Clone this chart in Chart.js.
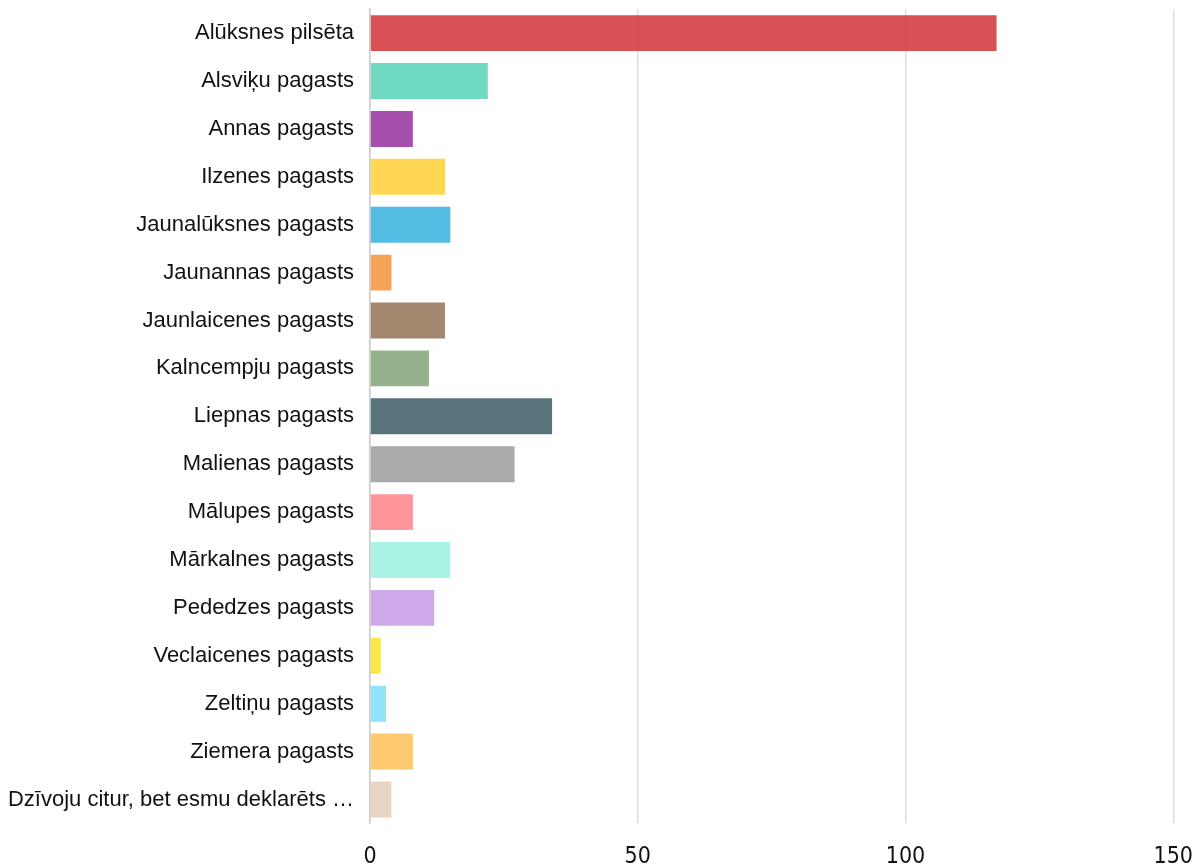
<!DOCTYPE html>
<html>
<head>
<meta charset="utf-8">
<script src="https://cdn.jsdelivr.net/npm/chart.js@4"></script>
<style>
  html, body { margin: 0; padding: 0; background: #fff; overflow: hidden; }
  #wrap { width: 1194px; height: 866px; overflow: hidden; position: relative; }
  #chart { position: absolute; left: 0; top: -20px; }
</style>
</head>
<body>
<div id="wrap"><canvas id="chart" width="1213" height="911"></canvas></div>
<script>
const labels = [
  'Alūksnes pilsēta', 'Alsviķu pagasts', 'Annas pagasts', 'Ilzenes pagasts',
  'Jaunalūksnes pagasts', 'Jaunannas pagasts', 'Jaunlaicenes pagasts', 'Kalncempju pagasts',
  'Liepnas pagasts', 'Malienas pagasts', 'Mālupes pagasts', 'Mārkalnes pagasts',
  'Pededzes pagasts', 'Veclaicenes pagasts', 'Zeltiņu pagasts', 'Ziemera pagasts',
  'Dzīvoju citur, bet esmu deklarēts …'
];
const values = [117, 22, 8, 14, 15, 4, 14, 11, 34, 27, 8, 15, 12, 2, 3, 8, 4];
const colors = [
  '#d4464a', '#66d8bd', '#a043a6', '#ffd447', '#47b8e0', '#f59c4c', '#9e7f66', '#8fad86',
  '#4f6a72', '#a5a5a5', '#ff8d95', '#a5f3e4', '#cba5ea', '#f7e73a', '#88e1f9', '#ffc666', '#e8d2bd'
];
const xTicks = [0, 50, 100, 150];

const ctx = document.getElementById('chart').getContext('2d');
new Chart(ctx, {
  type: 'bar',
  data: { labels, datasets: [{ data: values, backgroundColor: colors.map(c => c + 'f0'), categoryPercentage: 1, barPercentage: 0.75 }] },
  options: {
    indexAxis: 'y',
    responsive: false,
    animation: false,
    layout: { padding: { top: 0, right: 2, left: 0, bottom: 0 } },
    plugins: { legend: { display: false }, tooltip: { enabled: false } },
    scales: {
      x: {
        min: 0, max: 150,
        afterBuildTicks: s => { s.ticks = xTicks.map(v => ({ value: v })); },
        grid: { color: '#dddddd', lineWidth: 1.5, drawTicks: false },
        border: { display: false },
        ticks: { color: '#111', padding: 20, font: { family: "'DejaVu Sans Condensed', 'Liberation Sans'", size: 23 } }
      },
      y: {
        afterFit: s => { s.width = 370; },
        grid: { display: false, drawTicks: false },
        border: { display: true, color: '#cccccc', width: 1.5 },
        ticks: { color: '#111', padding: 16, font: { family: 'Liberation Sans', size: 22 } }
      }
    }
  }
});
</script>
</body>
</html>
